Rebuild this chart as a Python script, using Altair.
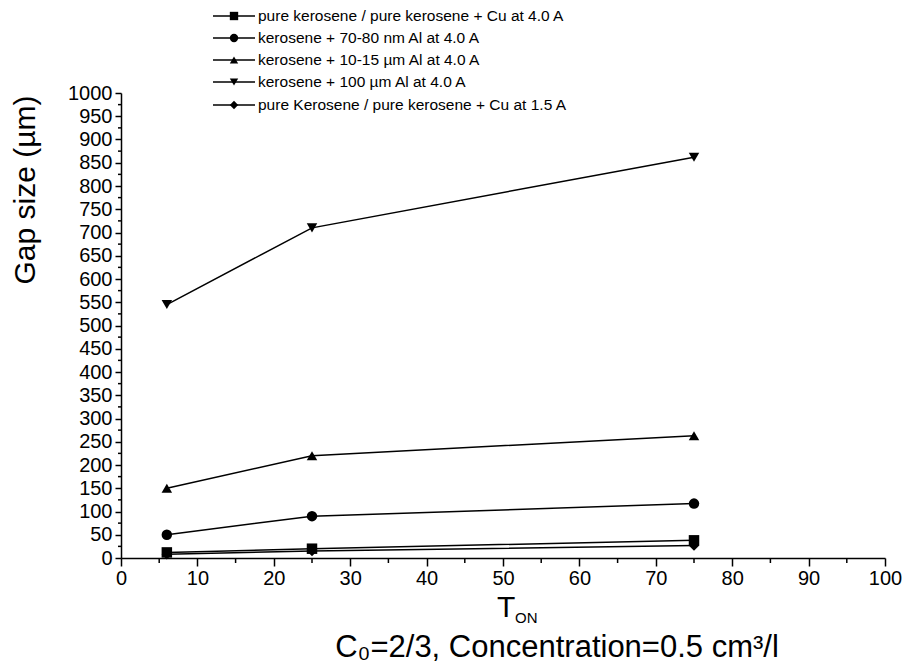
import altair as alt
import pandas as pd

# ---- data ----
t_on = [6, 25, 75]
series_names = [
    "pure kerosene / pure kerosene + Cu at 4.0 A",
    "kerosene + 70-80 nm Al at 4.0 A",
    "kerosene + 10-15 \u00b5m Al at 4.0 A",
    "kerosene + 100 \u00b5m Al at 4.0 A",
    "pure Kerosene / pure kerosene + Cu at 1.5 A",
]
gap_square = [12, 20, 38]
gap_circle = [50, 90, 117]
gap_tri_up = [150, 220, 263]
gap_tri_down = [545, 710, 862]
gap_diamond = [8, 15, 27]
shapes = ["square", "circle", "triangle-up", "triangle-down", "diamond"]

x_major = list(range(0, 101, 10))
x_minor = list(range(5, 100, 10))
y_major = list(range(0, 1001, 50))
y_minor = list(range(25, 1000, 50))

rows = []
for name, vals in zip(series_names, [gap_square, gap_circle, gap_tri_up, gap_tri_down, gap_diamond]):
    for t, v in zip(t_on, vals):
        rows.append({"series": name, "t_on": t, "gap": v})
df = pd.DataFrame(rows)

xscale = alt.Scale(domain=[0, 100], nice=False, zero=False)
yscale = alt.Scale(domain=[0, 1000], nice=False, zero=False)

common_axis = dict(
    grid=False, title=None, labelColor="black", tickColor="black",
    domainColor="black", labelFont="Liberation Sans", labelFontSize=20,
    tickWidth=1.5, domainWidth=1.5, format="d", labelOverlap=False,
)
xaxis = alt.Axis(values=x_major, tickSize=8, labelPadding=2, labelFlush=False, **common_axis)
yaxis = alt.Axis(values=y_major, tickSize=6, labelPadding=3, labelFlush=False, **common_axis)


def X():
    return alt.X("t_on:Q", scale=xscale, axis=xaxis)


def Y():
    return alt.Y("gap:Q", scale=yscale, axis=yaxis)


base = alt.Chart(df)

lines = base.mark_line(color="black", strokeWidth=1.5).encode(
    x=X(), y=Y(), detail="series:N",
)

points = base.mark_point(filled=True, color="black", size=110, opacity=1).encode(
    x=X(), y=Y(),
    shape=alt.Shape("series:N", scale=alt.Scale(domain=series_names, range=shapes), legend=None),
)

# minor ticks drawn through the scales
minor_x = alt.Chart(pd.DataFrame({"t_on": x_minor})).mark_rule(color="black", strokeWidth=1.5).encode(
    x=X(), y=alt.value(465), y2=alt.value(470))
minor_y = alt.Chart(pd.DataFrame({"gap": y_minor})).mark_rule(color="black", strokeWidth=1.5).encode(
    y=Y(), x=alt.value(0), x2=alt.value(-3))

one = pd.DataFrame({"k": [0]})
layers = [lines, points, minor_x, minor_y]

# legend (manual, line + symbol + label)
legend_y = [-77, -55, -33, -11, 12]
for name, shp, yy in zip(series_names, shapes, legend_y):
    layers.append(alt.Chart(one).mark_rule(color="black", strokeWidth=1.5).encode(
        x=alt.value(92), x2=alt.value(134), y=alt.value(yy)))
    layers.append(alt.Chart(one).mark_point(filled=True, color="black", opacity=1, size=70).encode(
        x=alt.value(113), y=alt.value(yy), shape=alt.value(shp)))
    layers.append(alt.Chart(one).mark_text(text=name, align="left", baseline="middle",
                                          font="Liberation Sans", fontSize=15.5, color="black").encode(
        x=alt.value(137), y=alt.value(yy)))

# axis titles
layers.append(alt.Chart(one).mark_text(text="Gap size (\u00b5m)", angle=270, align="center",
                                      baseline="middle", font="Liberation Sans", fontSize=30,
                                      color="black").encode(x=alt.value(-95), y=alt.value(97)))
layers.append(alt.Chart(one).mark_text(text="T", align="left", baseline="alphabetic",
                                      font="Liberation Sans", fontSize=30, color="black").encode(
    x=alt.value(376), y=alt.value(524)))
layers.append(alt.Chart(one).mark_text(text="ON", align="left", baseline="alphabetic",
                                      font="Liberation Sans", fontSize=15, color="black").encode(
    x=alt.value(394), y=alt.value(530)))
layers.append(alt.Chart(one).mark_text(text="C\u2080=2/3, Concentration=0.5 cm\u00b3/l", align="center",
                                      baseline="alphabetic", font="Liberation Sans", fontSize=31,
                                      color="black").encode(x=alt.value(436), y=alt.value(564)))

chart = alt.layer(*layers).properties(
    width=764, height=465,
    autosize=alt.AutoSizeParams(type="none"),
    padding={"left": 113, "top": 85, "right": 17, "bottom": 106},
    background="white",
).configure_view(stroke=None)

chart.save("out.html", embed_options={"renderer": "svg", "actions": False})
